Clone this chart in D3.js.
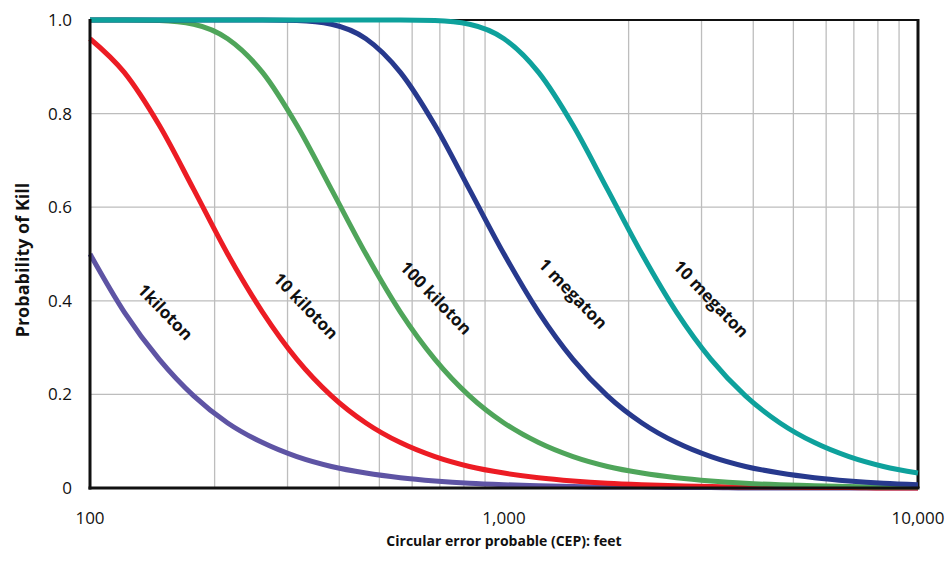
<!DOCTYPE html>
<html>
<head>
<meta charset="utf-8">
<script src="https://cdn.jsdelivr.net/npm/d3@7"></script>
<style>
  body { margin: 0; background: #fff; }
  text { font-family: "Open Sans", "Noto Sans", sans-serif; fill: #111; }
</style>
</head>
<body>
<svg id="chart"></svg>
<script>
// CEP sample points (feet) read along the x axis
const cep = [100, 121, 147, 178, 215, 261, 316, 383, 464, 562, 681, 825, 1000,
             1212, 1468, 1778, 2154, 2610, 3162, 3831, 4642, 5623, 6813, 8254, 10000];

// probability of kill at those CEP values
const pk1kt = [0.500, 0.376, 0.275, 0.197, 0.139, 0.097, 0.067, 0.046, 0.032, 0.022, 0.015, 0.010, 0.007,
               0.005, 0.003, 0.002, 0.002, 0.001, 0.001, 0.000, 0.000, 0.000, 0.000, 0.000, 0.000];
const pk10kt = [0.960, 0.888, 0.775, 0.638, 0.500, 0.376, 0.275, 0.197, 0.139, 0.097, 0.067, 0.046, 0.032,
                0.022, 0.015, 0.010, 0.007, 0.005, 0.003, 0.002, 0.002, 0.001, 0.001, 0.000, 0.000];
const pk100kt = [1.000, 1.000, 0.999, 0.991, 0.960, 0.888, 0.775, 0.638, 0.500, 0.376, 0.275, 0.197, 0.139,
                 0.097, 0.067, 0.046, 0.032, 0.022, 0.015, 0.010, 0.007, 0.005, 0.003, 0.002, 0.002];
const pk1mt = [1.000, 1.000, 1.000, 1.000, 1.000, 1.000, 0.999, 0.991, 0.960, 0.888, 0.775, 0.638, 0.500,
               0.376, 0.275, 0.197, 0.139, 0.097, 0.067, 0.046, 0.032, 0.022, 0.015, 0.010, 0.007];
const pk10mt = [1.000, 1.000, 1.000, 1.000, 1.000, 1.000, 1.000, 1.000, 1.000, 1.000, 0.999, 0.991, 0.960,
                0.888, 0.775, 0.638, 0.500, 0.376, 0.275, 0.197, 0.139, 0.097, 0.067, 0.046, 0.032];

const seriesNames = ['1kiloton', '10 kiloton', '100 kiloton', '1 megaton', '10 megaton'];
const seriesValues = [pk1kt, pk10kt, pk100kt, pk1mt, pk10mt];

const yTicks = [0, 0.2, 0.4, 0.6, 0.8, 1.0];
const yTickLabels = ['0', '0.2', '0.4', '0.6', '0.8', '1.0'];
const xTicks = [100, 1000, 10000];
const xTickLabels = ['100', '1,000', '10,000'];

const width = 949, height = 561;
const margin = { top: 20, right: 31, bottom: 73, left: 90 };

const colors = ['#5e54a4', '#ec1c24', '#4fa55a', '#27398d', '#0ea19c'];

// where each curve label sits (cep, pk), hand placed next to its curve
const labelSpots = [[152, 0.376], [332, 0.389], [685, 0.406], [1468, 0.415], [3162, 0.404]];

const svg = d3.select('#chart')
    .attr('width', width)
    .attr('height', height);

const x = d3.scaleLog()
    .domain([100, 10000])
    .range([margin.left, width - margin.right]);

const y = d3.scaleLinear()
    .domain([0, 1])
    .range([height - margin.bottom, margin.top]);

// grid
const gridX = [];
for (let dec = 100; dec < 10000; dec *= 10) {
    for (let k = 2; k <= 9; k++) gridX.push(dec * k);
}

svg.append('g')
    .selectAll('line')
    .data(gridX)
    .join('line')
    .attr('x1', d => x(d))
    .attr('x2', d => x(d))
    .attr('y1', y(0))
    .attr('y2', y(1))
    .attr('stroke', '#bdbdbd')
    .attr('stroke-width', 1.3);

svg.append('g')
    .selectAll('line')
    .data(yTicks.slice(1, -1))
    .join('line')
    .attr('x1', x(100))
    .attr('x2', x(10000))
    .attr('y1', d => y(d))
    .attr('y2', d => y(d))
    .attr('stroke', '#bdbdbd')
    .attr('stroke-width', 1.3);

// frame
svg.append('line')
    .attr('x1', x(100)).attr('x2', x(10000))
    .attr('y1', y(1)).attr('y2', y(1))
    .attr('stroke', '#111').attr('stroke-width', 2);
svg.append('line')
    .attr('x1', x(10000)).attr('x2', x(10000))
    .attr('y1', y(1) - 1).attr('y2', y(0))
    .attr('stroke', '#111').attr('stroke-width', 3);

// curves
const line = d3.line()
    .x((d, i) => x(cep[i]))
    .y(d => y(d))
    .curve(d3.curveMonotoneX);

svg.append('g')
    .selectAll('path')
    .data(seriesValues)
    .join('path')
    .attr('d', d => line(d))
    .attr('fill', 'none')
    .attr('stroke', (d, i) => colors[i])
    .attr('stroke-width', 5)
    .attr('stroke-linecap', 'butt');

// axes lines on top
svg.append('line')
    .attr('x1', x(100)).attr('x2', x(100))
    .attr('y1', y(1) - 1).attr('y2', y(0) + 1.5)
    .attr('stroke', '#111').attr('stroke-width', 3);
svg.append('line')
    .attr('x1', x(100) - 1.5).attr('x2', x(10000) + 1.5)
    .attr('y1', y(0)).attr('y2', y(0))
    .attr('stroke', '#111').attr('stroke-width', 3);

// tick labels
svg.append('g')
    .selectAll('text')
    .data(yTicks)
    .join('text')
    .attr('x', 72)
    .attr('y', d => y(d))
    .attr('dy', '0.35em')
    .attr('text-anchor', 'end')
    .attr('font-size', 17)
    .text((d, i) => yTickLabels[i]);

svg.append('g')
    .selectAll('text')
    .data(xTicks)
    .join('text')
    .attr('x', d => x(d))
    .attr('y', 524)
    .attr('text-anchor', 'middle')
    .attr('font-size', 17)
    .text((d, i) => xTickLabels[i]);

// curve labels
svg.append('g')
    .selectAll('text')
    .data(seriesNames)
    .join('text')
    .attr('transform', (d, i) => `translate(${x(labelSpots[i][0])},${y(labelSpots[i][1])}) rotate(46)`)
    .attr('dy', '0.35em')
    .attr('text-anchor', 'middle')
    .attr('font-size', 17)
    .attr('font-weight', 'bold')
    .text(d => d);

// axis titles
svg.append('text')
    .attr('x', (x(100) + x(10000)) / 2)
    .attr('y', 546)
    .attr('text-anchor', 'middle')
    .attr('font-size', 14)
    .attr('font-weight', 'bold')
    .text('Circular error probable (CEP): feet');

svg.append('text')
    .attr('transform', `translate(29, ${260}) rotate(-90)`)
    .attr('text-anchor', 'middle')
    .attr('font-size', 18)
    .attr('font-weight', 'bold')
    .text('Probability of Kill');
</script>
</body>
</html>
